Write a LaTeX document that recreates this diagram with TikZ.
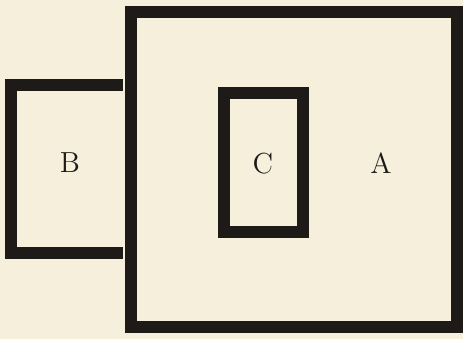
\documentclass[tikz,border=0pt]{standalone}
\usepackage{tikz}
\usetikzlibrary{positioning}
\definecolor{cpaper}{HTML}{F6EFDC}
\definecolor{cink}{HTML}{1E1A17}

\begin{document}
\begin{tikzpicture}[x=0.5pt, y=-0.5pt,
  wall/.style={draw=cink, line width=5.6pt, miter limit=10},
  lbl/.style={font=\fontsize{14.5}{16}\selectfont, text=cink, inner sep=0pt}
]
\fill[cpaper] (0,0) rectangle (463,339);
\useasboundingbox (0,0) rectangle (463,339);

% large square A
\draw[wall] (131,12) rectangle (457,327);
% inner box C
\draw[wall] (224,93) rectangle (303,232);
% open box B
\draw[wall] (123,85) -- (11,85) -- (11,253) -- (123,253);

\node[lbl] (labB) at (70,163)  {B};
\node[lbl] (labC) at (263,164) {C};
\node[lbl] (labA) at (381,163) {A};
\end{tikzpicture}
\end{document}
